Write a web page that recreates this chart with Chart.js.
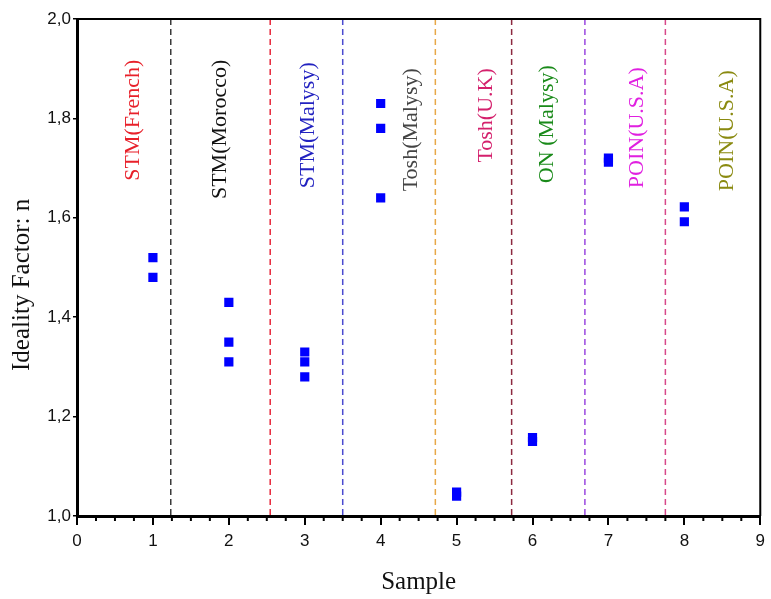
<!DOCTYPE html>
<html>
<head>
<meta charset="utf-8">
<script src="https://cdn.jsdelivr.net/npm/chart.js@4"></script>
<style>
  html, body { margin: 0; padding: 0; background: #fff; }
</style>
</head>
<body>
<canvas id="grafico" width="771" height="599"></canvas>
<script>
// Muestras (eje x) y factor de idealidad medido (eje y)
const samples = [1, 1, 2, 2, 2, 3, 3, 3, 4, 4, 4, 5, 5, 6, 6, 7, 7, 8, 8];
const idealityN = [1.52, 1.48, 1.43, 1.35, 1.31, 1.33, 1.31, 1.28, 1.83, 1.78, 1.64,
                   1.048, 1.040, 1.158, 1.150, 1.720, 1.712, 1.622, 1.592];

// Separadores entre fabricantes (posición en x) y sus colores
const dividerX = [1.235, 2.545, 3.50, 4.72, 5.725, 6.69, 7.75];
const dividerColors = ['#3a3a3a', '#e8283c', '#4a4ad0', '#e8a848', '#8c2a40', '#9a48e0', '#d8488a'];

// Etiquetas de cada grupo
const groupNames = ['STM(French)', 'STM(Morocco)', 'STM(Malysy)', 'Tosh(Malysy)',
                    'Tosh(U.K)', 'ON (Malysy)', 'POIN(U.S.A)', 'POIN(U.S.A)'];
const groupX = [0.74, 1.89, 3.05, 4.40, 5.39, 6.20, 7.38, 8.57];
const groupTop = [1.918, 1.918, 1.913, 1.901, 1.901, 1.907, 1.903, 1.897];
const groupColors = ['#e8202a', '#111111', '#2222c0', '#444444',
                     '#d4206c', '#1a8a1a', '#e020e0', '#8a8a10'];

const ctx = document.getElementById('grafico');

// Plugin: líneas punteadas, etiquetas, marco y ticks menores
const overlay = {
  id: 'overlay',
  beforeDatasetsDraw(chart) {
    const { ctx, chartArea: a, scales: { x, y } } = chart;
    ctx.save();
    ctx.lineWidth = 1.5;
    ctx.setLineDash([6, 4]);
    dividerX.forEach((v, i) => {
      const px = x.getPixelForValue(v);
      ctx.strokeStyle = dividerColors[i];
      ctx.beginPath();
      ctx.moveTo(px, a.top);
      ctx.lineTo(px, a.bottom);
      ctx.stroke();
    });
    ctx.setLineDash([]);
    ctx.font = '22px "Liberation Serif"';
    ctx.textAlign = 'right';
    ctx.textBaseline = 'middle';
    groupNames.forEach((t, i) => {
      ctx.save();
      ctx.translate(x.getPixelForValue(groupX[i]), y.getPixelForValue(groupTop[i]));
      ctx.rotate(-Math.PI / 2);
      ctx.fillStyle = groupColors[i];
      ctx.fillText(t, 0, 0);
      ctx.restore();
    });
    ctx.restore();
  },
  afterDraw(chart) {
    const { ctx, chartArea: a, scales: { x, y } } = chart;
    ctx.save();
    // marco superior y derecho
    ctx.strokeStyle = '#000';
    ctx.lineWidth = 2;
    ctx.beginPath();
    ctx.moveTo(a.left, a.top);
    ctx.lineTo(a.right, a.top);
    ctx.lineTo(a.right, a.bottom);
    ctx.stroke();
    // ticks menores del eje x
    for (let k = 1; k < 36; k++) {
      if (k % 4 === 0) continue;
      const px = x.getPixelForValue(k / 4);
      ctx.beginPath();
      ctx.moveTo(px, a.bottom);
      ctx.lineTo(px, a.bottom + 5);
      ctx.stroke();
    }
    // título del eje y
    ctx.translate(22, y.getPixelForValue(1.465));
    ctx.rotate(-Math.PI / 2);
    ctx.font = '25px "Liberation Serif"';
    ctx.fillStyle = '#111';
    ctx.textAlign = 'center';
    ctx.textBaseline = 'middle';
    ctx.fillText('Ideality Factor: n', 0, 0);
    ctx.restore();
  }
};

new Chart(ctx, {
  type: 'scatter',
  data: {
    datasets: [{
      label: 'n',
      data: samples.map((s, i) => ({ x: s, y: idealityN[i] })),
      pointStyle: 'rect',
      pointRadius: 6.5,
      backgroundColor: '#0000ff',
      borderWidth: 0
    }]
  },
  options: {
    responsive: false,
    animation: false,
    layout: { padding: { top: 19, right: 7, left: 0, bottom: 0 } },
    plugins: { legend: { display: false }, tooltip: { enabled: false } },
    scales: {
      x: {
        type: 'linear',
        min: 0,
        max: 9,
        afterFit: (scale) => { scale.height = 83; },
        ticks: {
          stepSize: 1,
          padding: 6,
          color: '#111',
          font: { family: '"Liberation Sans"', size: 17 }
        },
        grid: { drawOnChartArea: false, tickLength: 9, lineWidth: 2, color: '#000' },
        border: { width: 3, color: '#000' },
        title: {
          display: true,
          text: 'Sample',
          color: '#111',
          font: { family: '"Liberation Serif"', size: 25 },
          padding: { top: 0, bottom: 2 }
        }
      },
      y: {
        min: 1,
        max: 2,
        afterFit: (scale) => { scale.width = 77; },
        ticks: {
          stepSize: 0.2,
          padding: 2,
          color: '#111',
          font: { family: '"Liberation Sans"', size: 17 },
          callback: (v) => v.toFixed(1).replace('.', ',')
        },
        grid: { drawOnChartArea: false, tickLength: 4, lineWidth: 1.5, color: '#000' },
        border: { width: 3, color: '#000' }
      }
    }
  },
  plugins: [overlay]
});
</script>
</body>
</html>
